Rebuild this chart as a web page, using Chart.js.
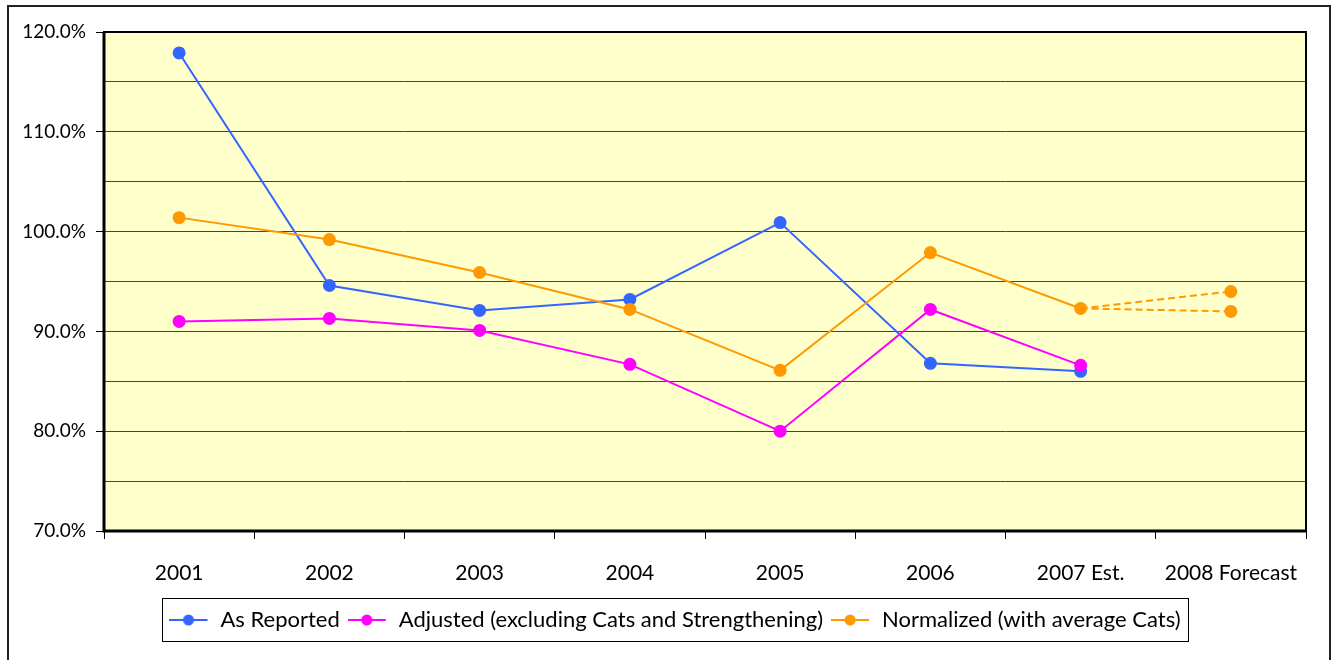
<!DOCTYPE html>
<html lang="en">
<head>
  <meta charset="UTF-8" />
  <title>Combined Ratio by Year</title>
  <script src="https://cdn.jsdelivr.net/npm/chart.js"></script>
  <style>
    * { box-sizing: border-box; }
    html, body { margin: 0; padding: 0; background: #fff; }
    #wrap { position: relative; width: 1334px; height: 660px; }
    canvas { display: block; }
  </style>
</head>
<body>
  <div id="wrap"><canvas id="ratioChart"></canvas></div>

  <script>
    const years = ['2001', '2002', '2003', '2004', '2005', '2006', '2007 Est.', '2008 Forecast'];

    const asReported = [117.9, 94.6, 92.1, 93.2, 100.9, 86.8, 86.0, null];
    const adjusted   = [91.0, 91.3, 90.1, 86.7, 80.0, 92.2, 86.6, null];
    const normalized = [101.4, 99.2, 95.9, 92.2, 86.1, 97.9, 92.3, null];

    // two forecast branches out of the 2007 estimate
    const forecastHigh = [null, null, null, null, null, null, 92.3, 94.0];
    const forecastLow  = [null, null, null, null, null, null, 92.3, 92.0];

    const BLUE = '#3366ff';
    const MAGENTA = '#ff00ff';
    const ORANGE = '#ff9900';
    const FONT = 'Lato, "Open Sans", sans-serif';
    const LEGEND_SHIFT = 18;

    // line-with-dot swatch for the legend
    function swatch(color) {
      const c = document.createElement('canvas');
      c.width = 40; c.height = 14;
      const g = c.getContext('2d');
      g.strokeStyle = color;
      g.lineWidth = 2;
      g.beginPath(); g.moveTo(0, 7); g.lineTo(38, 7); g.stroke();
      g.fillStyle = color;
      g.beginPath(); g.arc(19, 7, 5.5, 0, Math.PI * 2); g.fill();
      return c;
    }

    const frame = {
      id: 'frame',
      afterLayout(chart) {
        // nudge the legend a little to the right of centre
        const lg = chart.legend;
        lg.left += LEGEND_SHIFT;
        lg.right += LEGEND_SHIFT;
        (lg.legendHitBoxes || []).forEach(b => { b.left += LEGEND_SHIFT; });
      },
      beforeDraw(chart) {
        const { ctx, chartArea: a } = chart;
        ctx.save();
        ctx.fillStyle = '#ffffcc';
        ctx.fillRect(a.left, a.top, a.right - a.left, a.bottom - a.top);
        ctx.restore();
      },
      beforeDatasetsDraw(chart) {
        const { ctx, chartArea: a } = chart;
        ctx.save();
        ctx.strokeStyle = '#000';
        ctx.lineWidth = 2;
        ctx.strokeRect(a.left, a.top, a.right - a.left, a.bottom - a.top);
        ctx.lineWidth = 3;
        ctx.beginPath();
        ctx.moveTo(a.left, a.top);
        ctx.lineTo(a.left, a.bottom);
        ctx.lineTo(a.right, a.bottom);
        ctx.stroke();
        ctx.restore();
      },
      afterDraw(chart) {
        const { ctx } = chart;
        const boxes = chart.legend.legendHitBoxes;
        ctx.save();
        ctx.strokeStyle = '#000';
        ctx.lineWidth = 1;
        if (boxes && boxes.length) {
          const left = Math.min(...boxes.map(b => b.left)) - 7;
          const right = Math.max(...boxes.map(b => b.left + b.width)) + 8;
          const mid = boxes[0].top + boxes[0].height / 2;
          ctx.strokeRect(Math.round(left) + 0.5, Math.round(mid - 22) + 0.5, Math.round(right - left), 43);
        }
        ctx.lineWidth = 2;
        ctx.strokeStyle = '#222';
        ctx.strokeRect(8, 6, 1322, 660);
        ctx.restore();
      }
    };

    function line(label, data, color, order) {
      return {
        label, data, order,
        borderColor: color,
        backgroundColor: color,
        borderWidth: 2,
        pointRadius: 6.5,
        pointHoverRadius: 6.5,
        pointBorderWidth: 0,
        tension: 0
      };
    }

    function forecast(data) {
      return {
        label: 'forecast',
        data,
        order: 0,
        borderColor: ORANGE,
        backgroundColor: ORANGE,
        borderWidth: 2,
        borderDash: [7, 4],
        pointRadius: [0, 0, 0, 0, 0, 0, 0, 6.5],
        pointBorderWidth: 0,
        tension: 0
      };
    }

    const chart = new Chart(document.getElementById('ratioChart'), {
      type: 'line',
      data: {
        labels: years,
        datasets: [
          line('As Reported', asReported, BLUE, 3),
          line('Adjusted (excluding Cats and Strengthening)', adjusted, MAGENTA, 2),
          line('Normalized (with average Cats)', normalized, ORANGE, 1),
          forecast(forecastHigh),
          forecast(forecastLow)
        ]
      },
      options: {
        responsive: true,
        maintainAspectRatio: false,
        animation: false,
        layout: { padding: { left: 8, top: 32, right: 28, bottom: 19 } },
        plugins: {
          tooltip: { enabled: false },
          legend: {
            position: 'bottom',
            labels: {
              color: '#000',
              font: { family: FONT, size: 22 },
              usePointStyle: true,
              pointStyleWidth: 40,
              padding: 8,
              generateLabels: chart => chart.data.datasets.slice(0, 3).map((ds, i) => ({
                text: ds.label,
                fillStyle: ds.borderColor,
                strokeStyle: ds.borderColor,
                lineWidth: 0,
                pointStyle: swatch(ds.borderColor),
                datasetIndex: i,
                fontColor: '#000'
              }))
            }
          }
        },
        scales: {
          x: {
            offset: true,
            grid: {
              offset: true,
              drawOnChartArea: false,
              tickLength: 8,
              tickColor: '#000'
            },
            border: { display: false },
            ticks: {
              color: '#000',
              padding: 22,
              maxRotation: 0,
              font: { family: FONT, size: 21 }
            },
            afterFit: s => { s.height = 70; }
          },
          y: {
            min: 70,
            max: 120,
            grid: {
              color: '#444',
              lineWidth: 1,
              tickLength: 8,
              tickColor: c => (c.tick && c.tick.value % 10 === 0) ? '#000' : 'rgba(0,0,0,0)'
            },
            border: { display: false },
            ticks: {
              stepSize: 5,
              color: '#000',
              padding: 10,
              font: { family: FONT, size: 19 },
              callback: v => (v % 10 === 0 ? v.toFixed(1) + '%' : '')
            },
            afterFit: s => { s.width = 96; }
          }
        }
      },
      plugins: [frame]
    });
  </script>
</body>
</html>
